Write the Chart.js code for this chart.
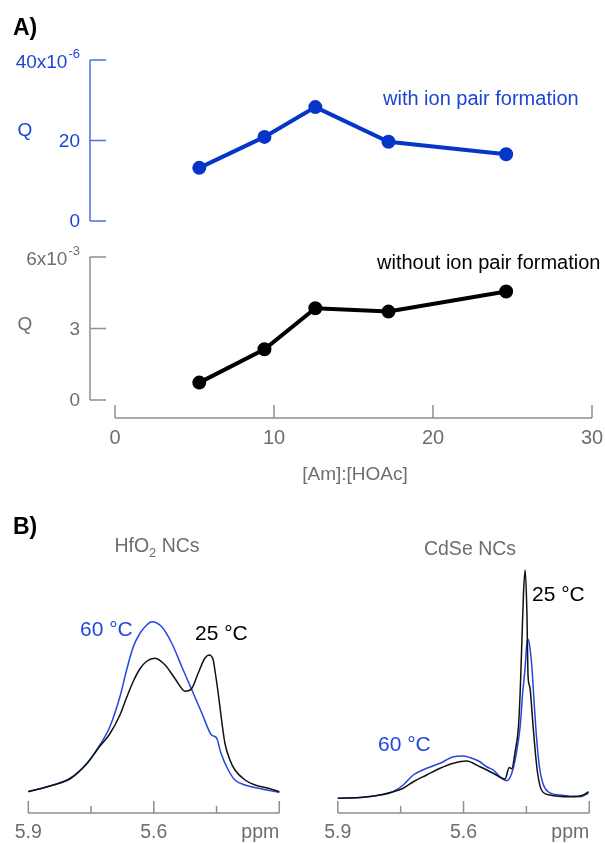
<!DOCTYPE html>
<html>
<head>
<meta charset="utf-8">
<script src="https://cdn.jsdelivr.net/npm/chart.js@4"></script>
<style>
  html, body { margin: 0; padding: 0; background: #fff; }
  #wrap { position: relative; width: 605px; height: 843px; }
  #wrap canvas { position: absolute; left: 0; top: 0; }
</style>
</head>
<body>
<div id="wrap">
  <canvas id="qIonChart" width="605" height="843"></canvas>
  <canvas id="qNoIonChart" width="605" height="843"></canvas>
  <canvas id="hfo2Chart" width="605" height="843"></canvas>
  <canvas id="cdseChart" width="605" height="843"></canvas>
</div>
<script>
// ---- panel A data ----
const amHoacRatio = [5.3, 9.4, 12.6, 17.2, 24.6];
const qWithIonPair = [13.2, 20.9, 28.3, 19.7, 16.6];      // x10^-6
const qWithoutIonPair = [0.73, 2.13, 3.85, 3.71, 4.55];   // x10^-3
const qIonTicks = [0, 20, 40];
const qNoIonTicks = [0, 3, 6];
const ratioTicks = [0, 10, 20, 30];

// ---- panel B data (ppm, intensity a.u.) ----
const hfo2Ppm60 = [5.900, 5.872, 5.840, 5.800, 5.760, 5.729, 5.705, 5.681, 5.665, 5.649, 5.633, 5.617, 5.605, 5.581, 5.557, 5.533, 5.509, 5.485, 5.462, 5.455, 5.449, 5.440, 5.422, 5.406, 5.382, 5.350, 5.300];
const hfo2Int60 = [7.5, 8.5, 10, 12.7, 18.7, 26, 33.3, 45.3, 56, 65.3, 70.7, 74, 75.3, 73.3, 66.7, 57.3, 48, 38.7, 30, 29.5, 28.5, 23, 16, 12, 10, 8.7, 7];
const hfo2Ppm25 = [5.900, 5.872, 5.840, 5.800, 5.760, 5.729, 5.705, 5.681, 5.665, 5.649, 5.633, 5.617, 5.597, 5.573, 5.549, 5.525, 5.509, 5.494, 5.478, 5.468, 5.458, 5.454, 5.446, 5.438, 5.430, 5.418, 5.406, 5.382, 5.358, 5.326, 5.300];
const hfo2Int25 = [7.3, 8.5, 10, 12.5, 18.5, 25.5, 30.5, 38, 45, 51.5, 56.5, 59.5, 60.7, 58, 52.5, 47.5, 48.7, 54.7, 60.7, 62, 60, 56, 46.7, 36, 26.7, 20, 16, 12, 10, 8.7, 7.3];
const cdsePpm60 = [5.900, 5.839, 5.799, 5.768, 5.744, 5.720, 5.688, 5.656, 5.624, 5.601, 5.585, 5.561, 5.545, 5.529, 5.513, 5.497, 5.485, 5.474, 5.465, 5.459, 5.453, 5.449, 5.446, 5.442, 5.437, 5.432, 5.426, 5.419, 5.411, 5.398, 5.370, 5.322, 5.302];
const cdseInt60 = [4.7, 5.1, 6, 7.3, 10, 14, 16.7, 18.7, 21.3, 21.6, 21, 19.3, 17.3, 16, 13.3, 11.7, 14.7, 22.7, 33.3, 46.7, 57.3, 66.7, 68.3, 65.3, 57.3, 44, 29.3, 17.3, 10.7, 7.3, 6, 5.3, 6.7];
const cdsePpm25 = [5.900, 5.839, 5.799, 5.768, 5.744, 5.720, 5.688, 5.656, 5.624, 5.593, 5.561, 5.529, 5.501, 5.491, 5.485, 5.477, 5.469, 5.465, 5.461, 5.457, 5.453, 5.449, 5.446, 5.442, 5.434, 5.427, 5.422, 5.414, 5.394, 5.346, 5.314, 5.302];
const cdseInt25 = [4.7, 5.1, 6, 7.3, 8.7, 11.3, 14, 16.7, 18.7, 19.6, 17.3, 14.7, 12.4, 17, 16.5, 23.3, 33.3, 46.7, 66.7, 86.7, 96, 80, 53.3, 49.3, 33.3, 20, 13.3, 8, 6, 5.3, 6, 7.3];
const ppmTicks = [5.9, 5.75, 5.6, 5.45, 5.3];
const ppmLabels = ["5.9", "", "5.6", "", "ppm"];

const FONT = "'Liberation Sans', Arial, sans-serif";
const GRAY_TEXT = "#6e6e6e";
const GRAY_AXIS = "#8f8f8f";
const BLUE_TEXT = "#1c45d4";
const BLUE_AXIS = "#4b6fe0";
const BLUE_LINE = "#0636c8";
const BLUE_SPEC = "#2347dc";

function xy(xs, ys) { return xs.map((x, i) => ({ x: x, y: ys[i] })); }

function text(ctx, str, x, y, size, color, align, weight) {
  ctx.font = (weight || "") + " " + size + "px " + FONT;
  ctx.fillStyle = color;
  ctx.textAlign = align || "left";
  ctx.textBaseline = "middle";
  ctx.fillText(str, x, y);
}

function baseOptions(pad, xMin, xMax, yMin, yMax, reverse) {
  return {
    responsive: false,
    animation: false,
    events: [],
    devicePixelRatio: 1,
    layout: { padding: pad },
    plugins: { legend: { display: false }, tooltip: { enabled: false } },
    scales: {
      x: { type: "linear", display: false, min: xMin, max: xMax, reverse: !!reverse },
      y: { type: "linear", display: false, min: yMin, max: yMax }
    }
  };
}

// left y axis with ticks pointing into the plot, top label has an exponent
function drawYAxis(chart, ticks, base, sup, textColor, axisColor, qY) {
  const ctx = chart.ctx, y = chart.scales.y;
  const ax = chart.chartArea.left - 25;
  ctx.save();
  ctx.strokeStyle = axisColor;
  ctx.lineWidth = 1.5;
  ctx.beginPath();
  ctx.moveTo(ax, y.getPixelForValue(ticks[0]));
  ctx.lineTo(ax, y.getPixelForValue(ticks[ticks.length - 1]));
  ticks.forEach(t => {
    const py = y.getPixelForValue(t);
    ctx.moveTo(ax, py);
    ctx.lineTo(ax + 16, py);
  });
  ctx.stroke();
  ticks.forEach((t, i) => {
    const py = y.getPixelForValue(t);
    if (i < ticks.length - 1) {
      text(ctx, String(t), ax - 10, py + 1, 19, textColor, "right");
    } else {
      ctx.font = "13px " + FONT;
      const sw = ctx.measureText(sup).width;
      text(ctx, sup, ax - 10, py - 6, 13, textColor, "right");
      text(ctx, base, ax - 11 - sw, py + 3, 19, textColor, "right");
    }
  });
  text(ctx, "Q", 25, qY, 19, textColor, "center");
  ctx.restore();
}

function drawPpmAxis(chart) {
  const ctx = chart.ctx, x = chart.scales.x;
  const ay = chart.chartArea.bottom + 3;
  ctx.save();
  ctx.strokeStyle = GRAY_AXIS;
  ctx.lineWidth = 1.5;
  ctx.beginPath();
  ctx.moveTo(x.getPixelForValue(ppmTicks[0]), ay);
  ctx.lineTo(x.getPixelForValue(ppmTicks[ppmTicks.length - 1]), ay);
  ppmTicks.forEach((t, i) => {
    const px = x.getPixelForValue(t);
    ctx.moveTo(px, ay);
    ctx.lineTo(px, ay - (i % 2 === 0 ? 12 : 7));
  });
  ctx.stroke();
  ppmTicks.forEach((t, i) => {
    const px = x.getPixelForValue(t);
    const last = i === ppmTicks.length - 1;
    text(ctx, ppmLabels[i], px, ay + 20, 19.5, GRAY_TEXT, last ? "right" : "center");
  });
  ctx.restore();
}

// ---- A top: with ion pair formation ----
new Chart(document.getElementById("qIonChart"), {
  type: "line",
  data: {
    datasets: [{
      data: xy(amHoacRatio, qWithIonPair),
      borderColor: BLUE_LINE,
      backgroundColor: BLUE_LINE,
      borderWidth: 4,
      pointRadius: 5,
      fill: false,
      clip: false
    }]
  },
  options: baseOptions({ left: 115, right: 13, top: 60, bottom: 622 }, 0, 30, 0, 40),
  plugins: [{
    id: "axesA1",
    afterDraw(chart) {
      const ctx = chart.ctx;
      drawYAxis(chart, qIonTicks, "40x10", "-6", BLUE_TEXT, BLUE_AXIS, 131);
      text(ctx, "A)", 13, 29, 23, "#000", "left", "bold");
      text(ctx, "with ion pair formation", 383, 99, 20, BLUE_TEXT, "left");
    }
  }]
});

// ---- A bottom: without ion pair formation ----
new Chart(document.getElementById("qNoIonChart"), {
  type: "line",
  data: {
    datasets: [{
      data: xy(amHoacRatio, qWithoutIonPair),
      borderColor: "#000",
      backgroundColor: "#000",
      borderWidth: 4,
      pointRadius: 5,
      fill: false,
      clip: false
    }]
  },
  options: baseOptions({ left: 115, right: 13, top: 257, bottom: 443 }, 0, 30, 0, 6),
  plugins: [{
    id: "axesA2",
    afterDraw(chart) {
      const ctx = chart.ctx, x = chart.scales.x;
      drawYAxis(chart, qNoIonTicks, "6x10", "-3", GRAY_TEXT, GRAY_AXIS, 325);
      const ay = 418;
      ctx.save();
      ctx.strokeStyle = GRAY_AXIS;
      ctx.lineWidth = 1.5;
      ctx.beginPath();
      ctx.moveTo(x.getPixelForValue(ratioTicks[0]), ay);
      ctx.lineTo(x.getPixelForValue(ratioTicks[ratioTicks.length - 1]), ay);
      ratioTicks.forEach(t => {
        const px = x.getPixelForValue(t);
        ctx.moveTo(px, ay);
        ctx.lineTo(px, ay - 13);
      });
      ctx.stroke();
      ratioTicks.forEach(t => text(ctx, String(t), x.getPixelForValue(t), 438, 20, GRAY_TEXT, "center"));
      text(ctx, "[Am]:[HOAc]", 355, 475, 19, GRAY_TEXT, "center");
      text(ctx, "without ion pair formation", 377, 263, 20, "#000", "left");
      ctx.restore();
    }
  }]
});

// ---- B left: HfO2 NCs ----
new Chart(document.getElementById("hfo2Chart"), {
  type: "line",
  data: {
    datasets: [
      { data: xy(hfo2Ppm25, hfo2Int25), borderColor: "#111", borderWidth: 1.5, pointRadius: 0, cubicInterpolationMode: "monotone", clip: false },
      { data: xy(hfo2Ppm60, hfo2Int60), borderColor: BLUE_SPEC, borderWidth: 1.5, pointRadius: 0, cubicInterpolationMode: "monotone", clip: false }
    ]
  },
  options: baseOptions({ left: 28.3, right: 325.7, top: 560, bottom: 33 }, 5.3, 5.9, 0, 100, true),
  plugins: [{
    id: "axesB1",
    afterDraw(chart) {
      const ctx = chart.ctx;
      drawPpmAxis(chart);
      text(ctx, "B)", 13, 528, 23, "#000", "left", "bold");
      // HfO2 NCs with subscript
      ctx.font = "19.5px " + FONT;
      const w1 = ctx.measureText("HfO").width;
      const w3 = ctx.measureText(" NCs").width;
      ctx.font = "13px " + FONT;
      const w2 = ctx.measureText("2").width;
      const x0 = 157 - (w1 + w2 + w3) / 2;
      text(ctx, "HfO", x0, 547, 19.5, GRAY_TEXT, "left");
      text(ctx, "2", x0 + w1, 553, 13, GRAY_TEXT, "left");
      text(ctx, " NCs", x0 + w1 + w2, 547, 19.5, GRAY_TEXT, "left");
      text(ctx, "60 °C", 80, 630, 21, BLUE_SPEC, "left");
      text(ctx, "25 °C", 195, 634, 21, "#000", "left");
    }
  }]
});

// ---- B right: CdSe NCs ----
new Chart(document.getElementById("cdseChart"), {
  type: "line",
  data: {
    datasets: [
      { data: xy(cdsePpm25, cdseInt25), borderColor: "#111", borderWidth: 1.5, pointRadius: 0, cubicInterpolationMode: "monotone", clip: false },
      { data: xy(cdsePpm60, cdseInt60), borderColor: BLUE_SPEC, borderWidth: 1.5, pointRadius: 0, cubicInterpolationMode: "monotone", clip: false }
    ]
  },
  options: baseOptions({ left: 337.8, right: 15.7, top: 560, bottom: 33 }, 5.3, 5.9, 0, 100, true),
  plugins: [{
    id: "axesB2",
    afterDraw(chart) {
      const ctx = chart.ctx;
      drawPpmAxis(chart);
      text(ctx, "CdSe NCs", 470, 550, 19.5, GRAY_TEXT, "center");
      text(ctx, "25 °C", 532, 595, 21, "#000", "left");
      text(ctx, "60 °C", 378, 745, 21, BLUE_SPEC, "left");
    }
  }]
});
</script>
</body>
</html>
